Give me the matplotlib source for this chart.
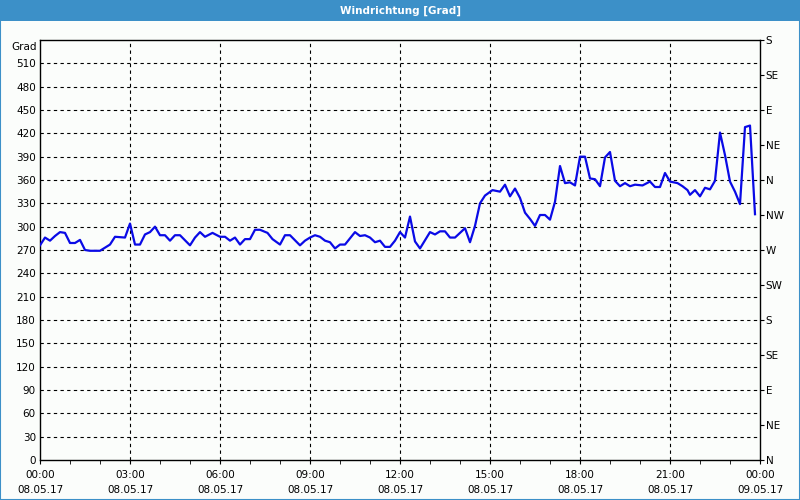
import matplotlib.pyplot as plt
from matplotlib.patches import Rectangle
import numpy as np

# wind direction samples, minutes after 08.05.17 00:00
minutes = [0, 10, 20, 30, 40, 50, 60, 70, 80, 90, 100, 120, 140, 150, 170,
           180, 190, 200, 210, 220, 230, 240, 250, 260, 270, 280, 300, 310,
           320, 330, 345, 360, 370, 380, 390, 400, 410, 420, 430, 440, 455,
           465, 480, 490, 500, 520, 530, 540, 550, 560, 570, 580, 590, 600,
           610, 630, 640, 650, 660, 670, 680, 690, 700, 710, 720, 730, 740,
           750, 760, 780, 790, 800, 810, 820, 830, 850, 860, 870, 880, 890,
           905, 920, 930, 940, 950, 960, 970, 980, 990, 1000, 1010, 1020,
           1030, 1040, 1050, 1060, 1070, 1080, 1090, 1100, 1110, 1120, 1130,
           1140, 1150, 1160, 1170, 1180, 1190, 1205, 1220, 1230, 1240, 1250,
           1260, 1275, 1285, 1295, 1300, 1310, 1320, 1330, 1340, 1350, 1360,
           1370, 1380, 1390, 1400, 1410, 1420, 1430]
grad = [276, 286, 282, 288, 293, 292, 279, 279, 283, 270, 269, 269, 277, 287,
        286, 304, 277, 277, 290, 293, 300, 289, 289, 282, 289, 289, 276, 286,
        293, 287, 292, 287, 287, 282, 286, 277, 284, 284, 296, 296, 292, 284,
        277, 289, 289, 276, 282, 286, 289, 287, 282, 280, 272, 277, 277, 293,
        288, 289, 286, 280, 282, 274, 274, 282, 293, 286, 313, 281, 272, 293,
        290, 294, 294, 286, 286, 298, 280, 301, 330, 340, 347, 345, 354, 339,
        349, 337, 318, 310, 301, 315, 315, 309, 332, 378, 356, 357, 353, 390,
        390, 362, 361, 352, 389, 396, 359, 352, 356, 352, 354, 353, 358, 351,
        351, 369, 358, 356, 352, 347, 341, 347, 339, 350, 348, 359, 421, 392,
        358, 345, 329, 428, 430, 316]

time_labels = ["00:00\n08.05.17", "03:00\n08.05.17", "06:00\n08.05.17",
               "09:00\n08.05.17", "12:00\n08.05.17", "15:00\n08.05.17",
               "18:00\n08.05.17", "21:00\n08.05.17", "00:00\n09.05.17"]
compass = ["N", "NE", "E", "SE", "S", "SW", "W", "NW",
           "N", "NE", "E", "SE", "S"]

bg = "#fbfdfb"
bar_blue = "#3c90c8"
fs = 7.5

fig = plt.figure(figsize=(8, 5), dpi=100, facecolor=bg)
ax = fig.add_axes([40 / 800, 40 / 500, 720 / 800, 420 / 500])
ax.set_facecolor(bg)

hours = np.array(minutes) / 60
ax.plot(hours, grad, color="#0a0ae6", linewidth=1.6, zorder=3)

ax.set_xlim(0, 24)
ax.set_ylim(0, 540)

# x axis
ax.set_xticks(np.arange(0, 25, 3))
ax.set_xticklabels(time_labels, fontsize=fs, linespacing=1.6)
ax.set_xticks(np.arange(0, 25, 1), minor=True)
ax.tick_params(axis="x", which="both", direction="out", length=3, pad=4)

# left y axis
ax.set_yticks(np.arange(0, 511, 30))
ax.set_yticklabels([str(v) for v in range(0, 511, 30)], fontsize=fs)
ax.tick_params(axis="y", length=0, pad=3)
ax.text(-0.005, 531, "Grad", fontsize=fs, ha="right", va="center",
        transform=ax.get_yaxis_transform())

# dashed grid
for v in range(30, 511, 30):
    ax.axhline(v, color="black", linewidth=0.8, linestyle=(0, (3, 3)), zorder=1)
for h in range(3, 24, 3):
    ax.axvline(h, color="black", linewidth=0.8, linestyle=(0, (3, 3)), zorder=1)

for s in ax.spines.values():
    s.set_linewidth(1.0)

# right compass axis
ax2 = ax.twinx()
ax2.set_ylim(0, 540)
ax2.set_yticks(np.arange(0, 541, 45))
ax2.set_yticklabels(compass, fontsize=fs)
ax2.tick_params(axis="y", direction="out", length=3, pad=1)
for s in ax2.spines.values():
    s.set_visible(False)

# title bar and border
fig.add_artist(Rectangle((0, 1 - 21 / 500), 1, 21 / 500, transform=fig.transFigure,
                         facecolor=bar_blue, edgecolor="none"))
fig.text(0.5, 1 - 10.5 / 500, "Windrichtung [Grad]", color="white",
         fontsize=fs, fontweight="bold", ha="center", va="center")
fig.add_artist(Rectangle((0, 0), 1, 1, transform=fig.transFigure,
                         facecolor="none", edgecolor=bar_blue, linewidth=1.5))

fig.savefig("out.png", dpi=100, facecolor=bg)
